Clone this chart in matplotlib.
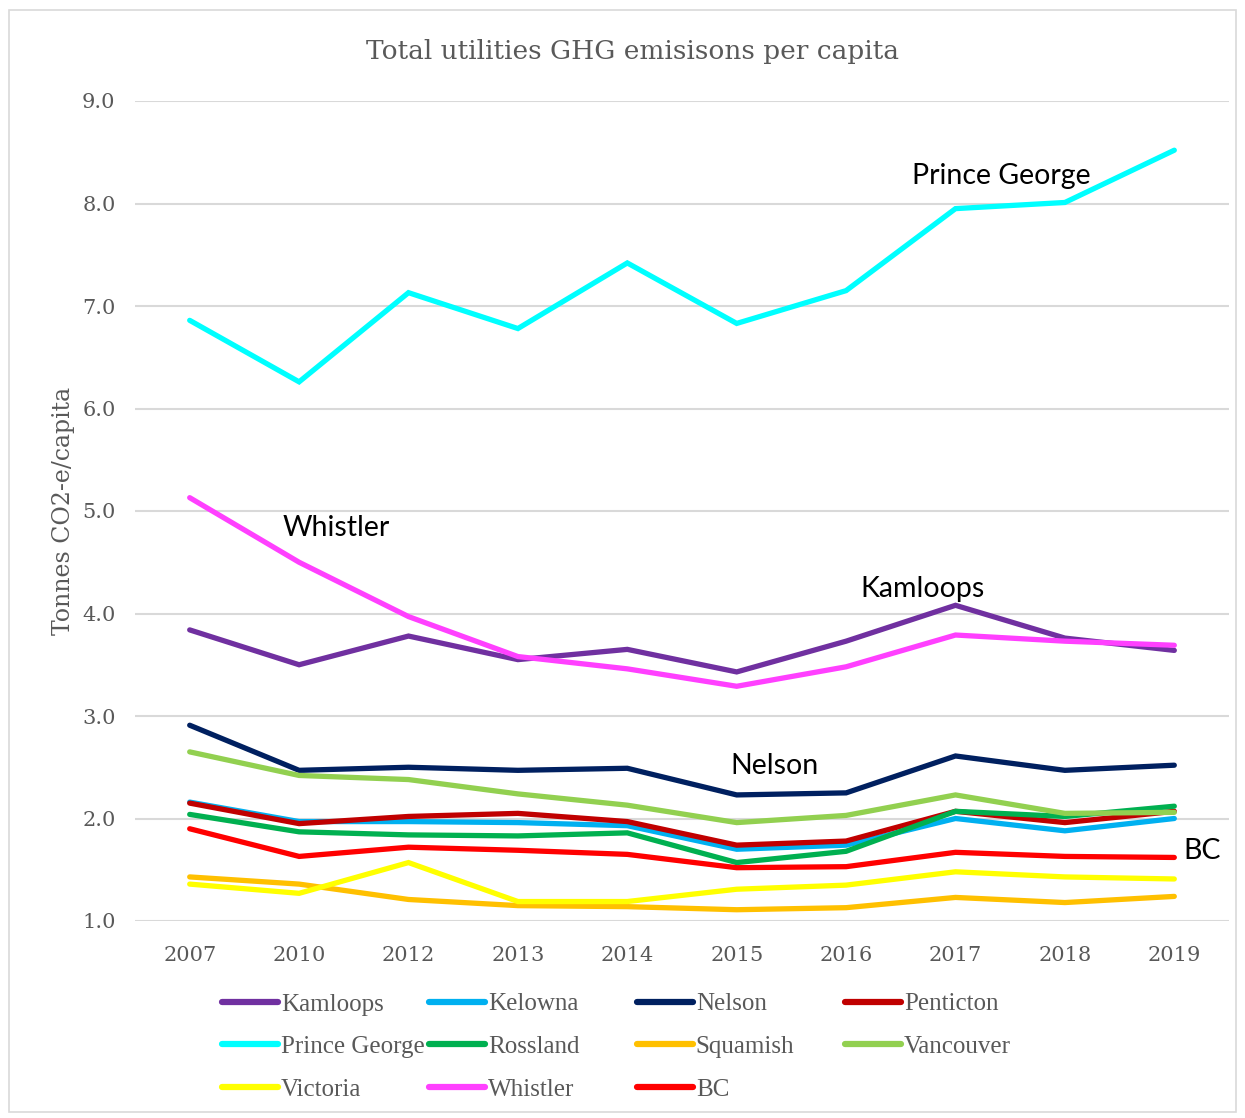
"""Total utilities GHG emissions per capita, BC communities."""
import matplotlib

matplotlib.use("Agg")
import matplotlib.pyplot as plt
from matplotlib.lines import Line2D
from matplotlib.patches import Rectangle

years = ["2007", "2010", "2012", "2013", "2014", "2015", "2016", "2017", "2018", "2019"]

kamloops = [3.84, 3.50, 3.78, 3.55, 3.65, 3.43, 3.73, 4.08, 3.76, 3.64]
kelowna = [2.16, 1.97, 1.97, 1.96, 1.93, 1.70, 1.74, 2.00, 1.88, 2.00]
nelson = [2.91, 2.47, 2.50, 2.47, 2.49, 2.23, 2.25, 2.61, 2.47, 2.52]
penticton = [2.15, 1.95, 2.02, 2.05, 1.97, 1.74, 1.78, 2.07, 1.96, 2.07]
prince_george = [6.86, 6.26, 7.13, 6.78, 7.42, 6.83, 7.15, 7.95, 8.01, 8.52]
rossland = [2.04, 1.87, 1.84, 1.83, 1.86, 1.57, 1.68, 2.07, 2.02, 2.12]
squamish = [1.43, 1.36, 1.21, 1.15, 1.14, 1.11, 1.13, 1.23, 1.18, 1.24]
vancouver = [2.65, 2.42, 2.38, 2.24, 2.13, 1.96, 2.03, 2.23, 2.05, 2.06]
victoria = [1.36, 1.27, 1.57, 1.19, 1.19, 1.31, 1.35, 1.48, 1.43, 1.41]
whistler = [5.13, 4.50, 3.97, 3.58, 3.46, 3.29, 3.48, 3.79, 3.73, 3.69]
bc = [1.90, 1.63, 1.72, 1.69, 1.65, 1.52, 1.53, 1.67, 1.63, 1.62]

series = [
    ("Kamloops", kamloops, "#7030A0"),
    ("Kelowna", kelowna, "#00B0F0"),
    ("Nelson", nelson, "#002060"),
    ("Penticton", penticton, "#C00000"),
    ("Prince George", prince_george, "#00FFFF"),
    ("Rossland", rossland, "#00B050"),
    ("Squamish", squamish, "#FFC000"),
    ("Vancouver", vancouver, "#92D050"),
    ("Victoria", victoria, "#FFFF00"),
    ("Whistler", whistler, "#FF40FF"),
    ("BC", bc, "#FF0000"),
]

labels = [("Prince George", 6.6, 8.27), ("Whistler", 0.85, 4.83),
          ("Kamloops", 6.13, 4.24), ("Nelson", 4.94, 2.51), ("BC", 9.08, 1.68)]

GRAY = "#595959"
SERIF = "DejaVu Serif"

fig = plt.figure(figsize=(12.45, 11.18), dpi=100)
fig.patches.append(Rectangle((9 / 1245, 1 - 1112 / 1118), 1227 / 1245, 1102 / 1118,
                             transform=fig.transFigure, fill=False,
                             edgecolor="#D9D9D9", linewidth=1.2))
ax = fig.add_axes([135 / 1245, 1 - 921 / 1118, 1094 / 1245, 820 / 1118])

x = list(range(len(years)))
handles = {}
for name, vals, col in series:
    (ln,) = ax.plot(x, vals, color=col, lw=3.8, solid_capstyle="round",
                    solid_joinstyle="miter")
    handles[name] = ln

ax.set_xlim(-0.5, len(years) - 0.5)
ax.set_ylim(1, 9)
ax.set_yticks([1, 2, 3, 4, 5, 6, 7, 8, 9])
ax.set_yticklabels([f"{v:.1f}" for v in range(1, 10)])
ax.set_xticks(x)
ax.set_xticklabels(years)
ax.grid(axis="y", color="#D9D9D9", lw=1.5)
ax.set_axisbelow(True)
for s in ax.spines.values():
    s.set_visible(False)
ax.tick_params(length=0, labelsize=15, labelcolor=GRAY)
ax.tick_params(axis="y", pad=14)
ax.tick_params(axis="x", pad=18)
for t in ax.get_xticklabels() + ax.get_yticklabels():
    t.set_fontfamily(SERIF)
ax.set_ylabel("Tonnes CO2-e/capita", fontsize=17, color=GRAY, family=SERIF, labelpad=5)

fig.text(633 / 1245, 1 - 52 / 1118, "Total utilities GHG emisisons per capita",
         ha="center", va="center", fontsize=19, color=GRAY, family=SERIF)

for txt, lx, ly in labels:
    ax.text(lx, ly, txt, ha="left", va="center", fontsize=20.5, color="black", family="Lato")

# legend laid out in fixed-width columns like the original
columns = [["Kamloops", "Prince George", "Victoria"],
           ["Kelowna", "Rossland", "Whistler"],
           ["Nelson", "Squamish", "BC"],
           ["Penticton", "Vancouver"]]
col_x = [222, 429, 637, 845]
for cx, names in zip(col_x, columns):
    hs = [Line2D([], [], color=handles[n].get_color(), lw=4.5, solid_capstyle="round")
          for n in names]
    leg = fig.legend(hs, names, loc="upper left", bbox_to_anchor=(cx / 1245, 1 - 993 / 1118),
                     frameon=False, handlelength=2.25, handletextpad=0.1, labelspacing=0.8,
                     borderaxespad=0, borderpad=0,
                     prop={"family": "Liberation Serif", "size": 18})
    for t in leg.get_texts():
        t.set_color(GRAY)

fig.savefig("out.png", dpi=100)
